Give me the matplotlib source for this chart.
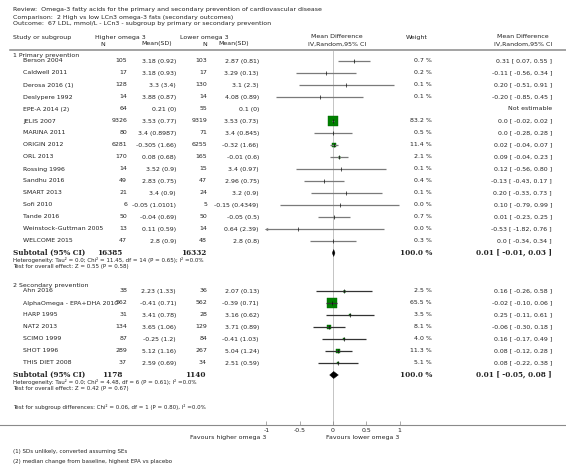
import matplotlib.pyplot as plt
from matplotlib.patches import Polygon

plt.rcParams.update({
    "font.family": "DejaVu Sans",
    "font.size": 4.5,
    "text.color": "#222222",
    "figure.facecolor": "white",
})

# ---- data: 1 Primary prevention
g1_names = ["Berson 2004", "Caldwell 2011", "Derosa 2016 (1)", "Deslypere 1992",
            "EPE-A 2014 (2)", "JELIS 2007", "MARINA 2011", "ORIGIN 2012", "ORL 2013",
            "Rossing 1996", "Sandhu 2016", "SMART 2013", "Sofi 2010", "Tande 2016",
            "Weinstock-Guttman 2005", "WELCOME 2015"]
g1_n_hi = [105, 17, 128, 14, 64, 9326, 80, 6281, 170, 14, 49, 21, 6, 50, 13, 47]
g1_mean_hi = [3.18, 3.18, 3.3, 3.88, 0.21, 3.53, 3.4, -0.305, 0.08, 3.52, 2.83, 3.4, -0.05, -0.04, 0.11, 2.8]
g1_sd_hi = [0.92, 0.93, 3.4, 0.87, 0, 0.77, 0.8987, 1.66, 0.68, 0.9, 0.75, 0.9, 1.0101, 0.69, 0.59, 0.9]
g1_n_lo = [103, 17, 130, 14, 55, 9319, 71, 6255, 165, 15, 47, 24, 5, 50, 14, 48]
g1_mean_lo = [2.87, 3.29, 3.1, 4.08, 0.1, 3.53, 3.4, -0.32, -0.01, 3.4, 2.96, 3.2, -0.15, -0.05, 0.64, 2.8]
g1_sd_lo = [0.81, 0.13, 2.3, 0.89, 0, 0.73, 0.845, 1.66, 0.6, 0.97, 0.75, 0.9, 0.4349, 0.5, 2.39, 0.8]
g1_weight = [0.7, 0.2, 0.1, 0.1, None, 83.2, 0.5, 11.4, 2.1, 0.1, 0.4, 0.1, 0.0, 0.7, 0.0, 0.3]
g1_md = [0.31, -0.11, 0.20, -0.20, None, 0.0, 0.0, 0.02, 0.09, 0.12, -0.13, 0.20, 0.10, 0.01, -0.53, 0.0]
g1_lo = [0.07, -0.56, -0.51, -0.85, None, -0.02, -0.28, -0.04, -0.04, -0.56, -0.43, -0.33, -0.79, -0.23, -1.82, -0.34]
g1_hi = [0.55, 0.34, 0.91, 0.45, None, 0.02, 0.28, 0.07, 0.23, 0.80, 0.17, 0.73, 0.99, 0.25, 0.76, 0.34]
g1_total = (16385, 16332, 0.01, -0.01, 0.03)
g1_het = ["Heterogeneity: Tau\u00b2 = 0.0; Chi\u00b2 = 11.45, df = 14 (P = 0.65); I\u00b2 =0.0%",
          "Test for overall effect: Z = 0.55 (P = 0.58)"]

# ---- data: 2 Secondary prevention
g2_names = ["Ahn 2016", "AlphaOmega - EPA+DHA 2010", "HARP 1995", "NAT2 2013",
            "SCIMO 1999", "SHOT 1996", "THIS DIET 2008"]
g2_n_hi = [38, 562, 31, 134, 87, 289, 37]
g2_mean_hi = [2.23, -0.41, 3.41, 3.65, -0.25, 5.12, 2.59]
g2_sd_hi = [1.33, 0.71, 0.78, 1.06, 1.2, 1.16, 0.69]
g2_n_lo = [36, 562, 28, 129, 84, 267, 34]
g2_mean_lo = [2.07, -0.39, 3.16, 3.71, -0.41, 5.04, 2.51]
g2_sd_lo = [0.13, 0.71, 0.62, 0.89, 1.03, 1.24, 0.59]
g2_weight = [2.5, 65.5, 3.5, 8.1, 4.0, 11.3, 5.1]
g2_md = [0.16, -0.02, 0.25, -0.06, 0.16, 0.08, 0.08]
g2_lo = [-0.26, -0.10, -0.11, -0.30, -0.17, -0.12, -0.22]
g2_hi = [0.58, 0.06, 0.61, 0.18, 0.49, 0.28, 0.38]
g2_total = (1178, 1140, 0.01, -0.05, 0.08)
g2_het = ["Heterogeneity: Tau\u00b2 = 0.0; Chi\u00b2 = 4.48, df = 6 (P = 0.61); I\u00b2 =0.0%",
          "Test for overall effect: Z = 0.42 (P = 0.67)"]

ticks = [-1, -0.5, 0, 0.5, 1]
tick_labels = ["-1", "-0.5", "0", "0.5", "1"]

W, H = 566, 469
X_LEFT, X_RIGHT = 266.3, 399.7   # pixel position of -1 and 1
Y_TOP, Y_AXIS = 51, 425
BOLD = dict(family="DejaVu Serif", fontweight="bold", fontsize=5.2)
SMALL = 4.0
GREEN = "#008000"


def fmt(v):
    return "0.0" if v == 0 else f"{v:.2f}"


def ci_text(m, l, h):
    return f"{fmt(m)} [ {fmt(l)}, {fmt(h)} ]"


fig = plt.figure(figsize=(W / 100, H / 100), dpi=100)
bg = fig.add_axes([0, 0, 1, 1])
bg.set_xlim(0, W)
bg.set_ylim(H, 0)
bg.axis("off")

ax = fig.add_axes([X_LEFT / W, 1 - Y_AXIS / H, (X_RIGHT - X_LEFT) / W, (Y_AXIS - Y_TOP) / H])
ax.set_xlim(-1, 1)
ax.set_ylim(Y_AXIS, Y_TOP)
ax.patch.set_alpha(0)
for s in ax.spines.values():
    s.set_visible(False)
ax.set_yticks([])
ax.set_xticks(ticks)
ax.set_xticklabels(tick_labels)
ax.tick_params(axis="x", direction="in", length=3, width=0.5, color="#888888",
               labelsize=4.5, pad=2, labelcolor="#222222")
ax.axvline(0, color="#c4c4c4", lw=0.7, zorder=0)

# titles
bg.text(13, 10, "Review:  Omega-3 fatty acids for the primary and secondary prevention of cardiovascular disease", va="center")
bg.text(13, 17, "Comparison:  2 High vs low LCn3 omega-3 fats (secondary outcomes)", va="center")
bg.text(13, 24, "Outcome:  67 LDL, mmol/L - LCn3 - subgroup by primary or secondary prevention", va="center")

# header
bg.text(13, 38, "Study or subgroup", va="center")
bg.text(95, 38, "Higher omega 3", va="center")
bg.text(103, 44, "N", va="center", ha="center")
bg.text(157, 44, "Mean(SD)", va="center", ha="center")
bg.text(180, 38, "Lower omega 3", va="center")
bg.text(205, 44, "N", va="center", ha="center")
bg.text(234, 44, "Mean(SD)", va="center", ha="center")
bg.text(337, 37, "Mean Difference", va="center", ha="center")
bg.text(337, 44, "IV,Random,95% CI", va="center", ha="center")
bg.text(417, 38, "Weight", va="center", ha="center")
bg.text(523, 37, "Mean Difference", va="center", ha="center")
bg.text(523, 44, "IV,Random,95% CI", va="center", ha="center")
bg.plot([10, W], [50, 50], color="#8a8a8a", lw=1.1)
bg.plot([0, W], [Y_AXIS, Y_AXIS], color="#8a8a8a", lw=0.8)


def draw_group(y0, title, names, n_hi, m_hi, sd_hi, n_lo, m_lo, sd_lo,
               weight, md, lo, hi, total, het, line_color):
    bg.text(13, y0, title, va="center")
    y = y0 + 6
    for i, name in enumerate(names):
        bg.text(23, y, name, va="center")
        bg.text(127, y, str(n_hi[i]), va="center", ha="right")
        bg.text(176, y, f"{m_hi[i]:g} ({sd_hi[i]:g})", va="center", ha="right")
        bg.text(207, y, str(n_lo[i]), va="center", ha="right")
        bg.text(259, y, f"{m_lo[i]:g} ({sd_lo[i]:g})", va="center", ha="right")
        if md[i] is None:
            bg.text(552, y, "Not estimable", va="center", ha="right")
        else:
            bg.text(432, y, f"{weight[i]:.1f} %", va="center", ha="right")
            bg.text(552, y, ci_text(md[i], lo[i], hi[i]), va="center", ha="right")
            side = 1.2 * weight[i] ** 0.5 * 0.72
            if side > 0.5:
                ax.plot(md[i], y, marker="s", ms=side, mfc=GREEN, mec="#006400",
                        mew=0.3, zorder=2)
            l, h = max(lo[i], -1), min(hi[i], 1)
            ax.plot([l, h], [y, y], color=line_color, lw=0.9, zorder=3,
                    solid_capstyle="butt")
            if lo[i] < -1:
                ax.plot(-1, y, marker="<", ms=2.4, color=line_color, mew=0,
                        clip_on=False, zorder=3)
            if hi[i] > 1:
                ax.plot(1, y, marker=">", ms=2.4, color=line_color, mew=0,
                        clip_on=False, zorder=3)
            ax.plot(md[i], y, marker="|", ms=2.4, mew=0.5, color="#111111", zorder=4)
        y += 12
    ys = y
    bg.text(13, ys, "Subtotal (95% CI)", va="center", **BOLD)
    bg.text(122, ys, str(total[0]), va="center", ha="right", **BOLD)
    bg.text(206, ys, str(total[1]), va="center", ha="right", **BOLD)
    bg.text(432, ys, "100.0 %", va="center", ha="right", **BOLD)
    bg.text(552, ys, ci_text(total[2], total[3], total[4]), va="center", ha="right", **BOLD)
    m, l, h = total[2], total[3], total[4]
    ax.add_patch(Polygon([(l, ys), (m, ys - 3.5), (h, ys), (m, ys + 3.5)],
                         closed=True, fc="black", ec="black", lw=0.3, zorder=4))
    bg.text(13, ys + 7, het[0], va="center", fontsize=SMALL)
    bg.text(13, ys + 13.5, het[1], va="center", fontsize=SMALL)


draw_group(55, "1 Primary prevention", g1_names, g1_n_hi, g1_mean_hi, g1_sd_hi,
           g1_n_lo, g1_mean_lo, g1_sd_lo, g1_weight, g1_md, g1_lo, g1_hi,
           g1_total, g1_het, "#7a7a7a")
draw_group(285, "2 Secondary prevention", g2_names, g2_n_hi, g2_mean_hi, g2_sd_hi,
           g2_n_lo, g2_mean_lo, g2_sd_lo, g2_weight, g2_md, g2_lo, g2_hi,
           g2_total, g2_het, "#333333")

bg.text(13, 407, "Test for subgroup differences: Chi\u00b2 = 0.06, df = 1 (P = 0.80), I\u00b2 =0.0%",
        va="center", fontsize=SMALL)
bg.text(266, 437, "Favours higher omega 3", va="center", ha="right")
bg.text(399, 437, "Favours lower omega 3", va="center", ha="right")
bg.text(13, 452, "(1) SDs unlikely, converted assuming SEs", va="center", fontsize=SMALL)
bg.text(13, 462, "(2) median change from baseline, highest EPA vs placebo", va="center", fontsize=SMALL)

fig.savefig("out.png", dpi=100)
